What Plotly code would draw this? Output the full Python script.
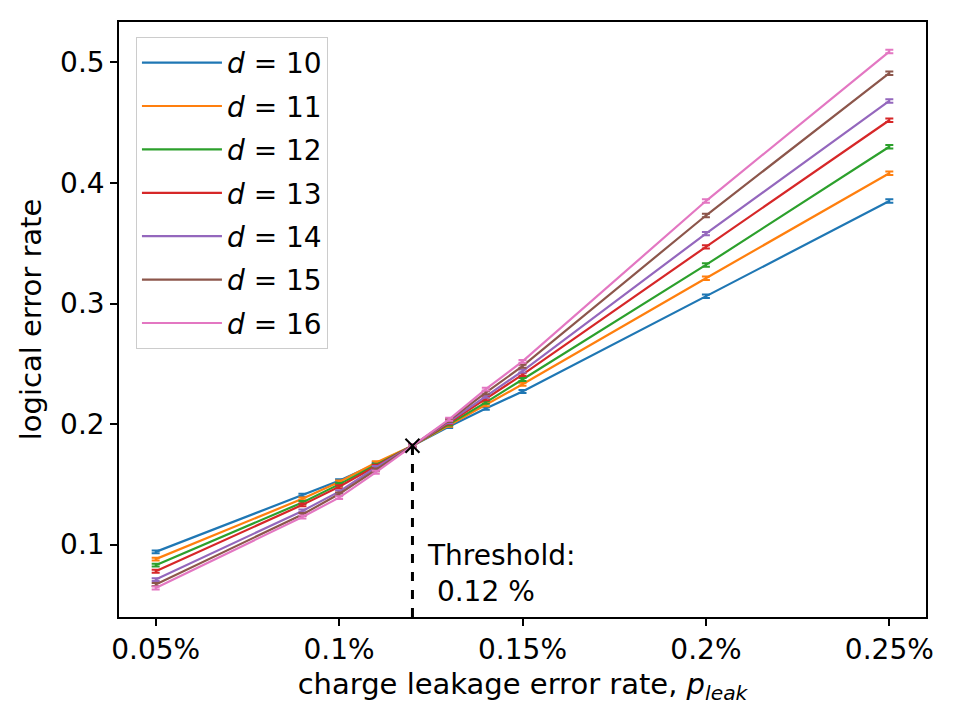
import plotly.graph_objects as go

p_leak = [0.05, 0.09, 0.10, 0.11, 0.12, 0.13, 0.14, 0.15, 0.20, 0.25]
distances = [10, 11, 12, 13, 14, 15, 16]
d10 = [0.094, 0.141, 0.153, 0.167, 0.182, 0.198, 0.213, 0.227, 0.306, 0.385]
d11 = [0.088, 0.138, 0.152, 0.168, 0.182, 0.199, 0.216, 0.233, 0.321, 0.408]
d12 = [0.083, 0.135, 0.150, 0.166, 0.182, 0.200, 0.218, 0.237, 0.332, 0.430]
d13 = [0.078, 0.133, 0.148, 0.165, 0.182, 0.201, 0.221, 0.241, 0.347, 0.452]
d14 = [0.071, 0.128, 0.144, 0.164, 0.182, 0.202, 0.223, 0.244, 0.358, 0.468]
d15 = [0.067, 0.125, 0.142, 0.162, 0.182, 0.203, 0.226, 0.248, 0.373, 0.491]
d16 = [0.064, 0.123, 0.139, 0.160, 0.182, 0.204, 0.229, 0.252, 0.385, 0.509]
series = [d10, d11, d12, d13, d14, d15, d16]
err = [0.0012, 0.0012, 0.0012, 0.0012, 0.0012, 0.0012, 0.0012, 0.0012, 0.0014, 0.0015]

threshold_x = 0.12
threshold_y = 0.182

xticks = [0.05, 0.10, 0.15, 0.20, 0.25]
xticklabels = ["0.05%", "0.1%", "0.15%", "0.2%", "0.25%"]
yticks = [0.1, 0.2, 0.3, 0.4, 0.5]
yticklabels = ["0.1", "0.2", "0.3", "0.4", "0.5"]

colors = ["#1f77b4", "#ff7f0e", "#2ca02c", "#d62728", "#9467bd", "#8c564b", "#e377c2"]

FONT = "DejaVu Sans"
FS = 28

fig = go.Figure()
for d, ys, c in zip(distances, series, colors):
    fig.add_trace(go.Scatter(
        x=p_leak, y=ys, mode="lines",
        line=dict(color=c, width=2.2),
        error_y=dict(type="data", array=err, visible=True, color=c, thickness=2, width=4),
        name=f"<i>d</i> = {d}", legendgroup=str(d),
    ))

fig.add_trace(go.Scatter(
    x=[threshold_x], y=[threshold_y], mode="markers",
    marker=dict(symbol="x-thin", size=14, line=dict(color="black", width=2)),
    showlegend=False,
))

xr = [0.04, 0.26]
yr = [0.040, 0.5335]

fig.add_shape(type="line", x0=threshold_x, x1=threshold_x, y0=yr[0], y1=threshold_y,
              xref="x", yref="y", line=dict(color="black", width=3, dash="dash"))

fig.add_annotation(x=0.1235, y=0.106, xref="x", yref="y", xanchor="left", yanchor="top",
                   text="Threshold:<br>&nbsp;0.12 %", showarrow=False, align="left",
                   font=dict(family=FONT, size=FS, color="black"))

fig.update_layout(
    width=960, height=720,
    margin=dict(l=119, r=34, t=22, b=103),
    paper_bgcolor="white", plot_bgcolor="white",
    font=dict(family=FONT, size=FS, color="black"),
    showlegend=True,
    legend=dict(x=0.021, y=0.975, xanchor="left", yanchor="top",
                bgcolor="white", bordercolor="#cccccc", borderwidth=1,
                font=dict(family=FONT, size=FS), tracegroupgap=4, itemwidth=80),
)
fig.update_xaxes(range=xr, tickvals=xticks, ticktext=xticklabels,
                 showline=True, linecolor="black", linewidth=1.5, mirror=True,
                 ticks="outside", ticklen=7, tickwidth=1.5, tickcolor="black",
                 showgrid=False, zeroline=False,
                 title=dict(text="charge leakage error rate, <i>p</i><sub><i>leak</i></sub>",
                            font=dict(family=FONT, size=29), standoff=8))
fig.update_yaxes(range=yr, tickvals=yticks, ticktext=yticklabels,
                 showline=True, linecolor="black", linewidth=1.5, mirror=True,
                 ticks="outside", ticklen=7, tickwidth=1.5, tickcolor="black",
                 showgrid=False, zeroline=False,
                 title=dict(text="logical error rate", font=dict(family=FONT, size=29), standoff=10))

fig.write_html("out.html")
